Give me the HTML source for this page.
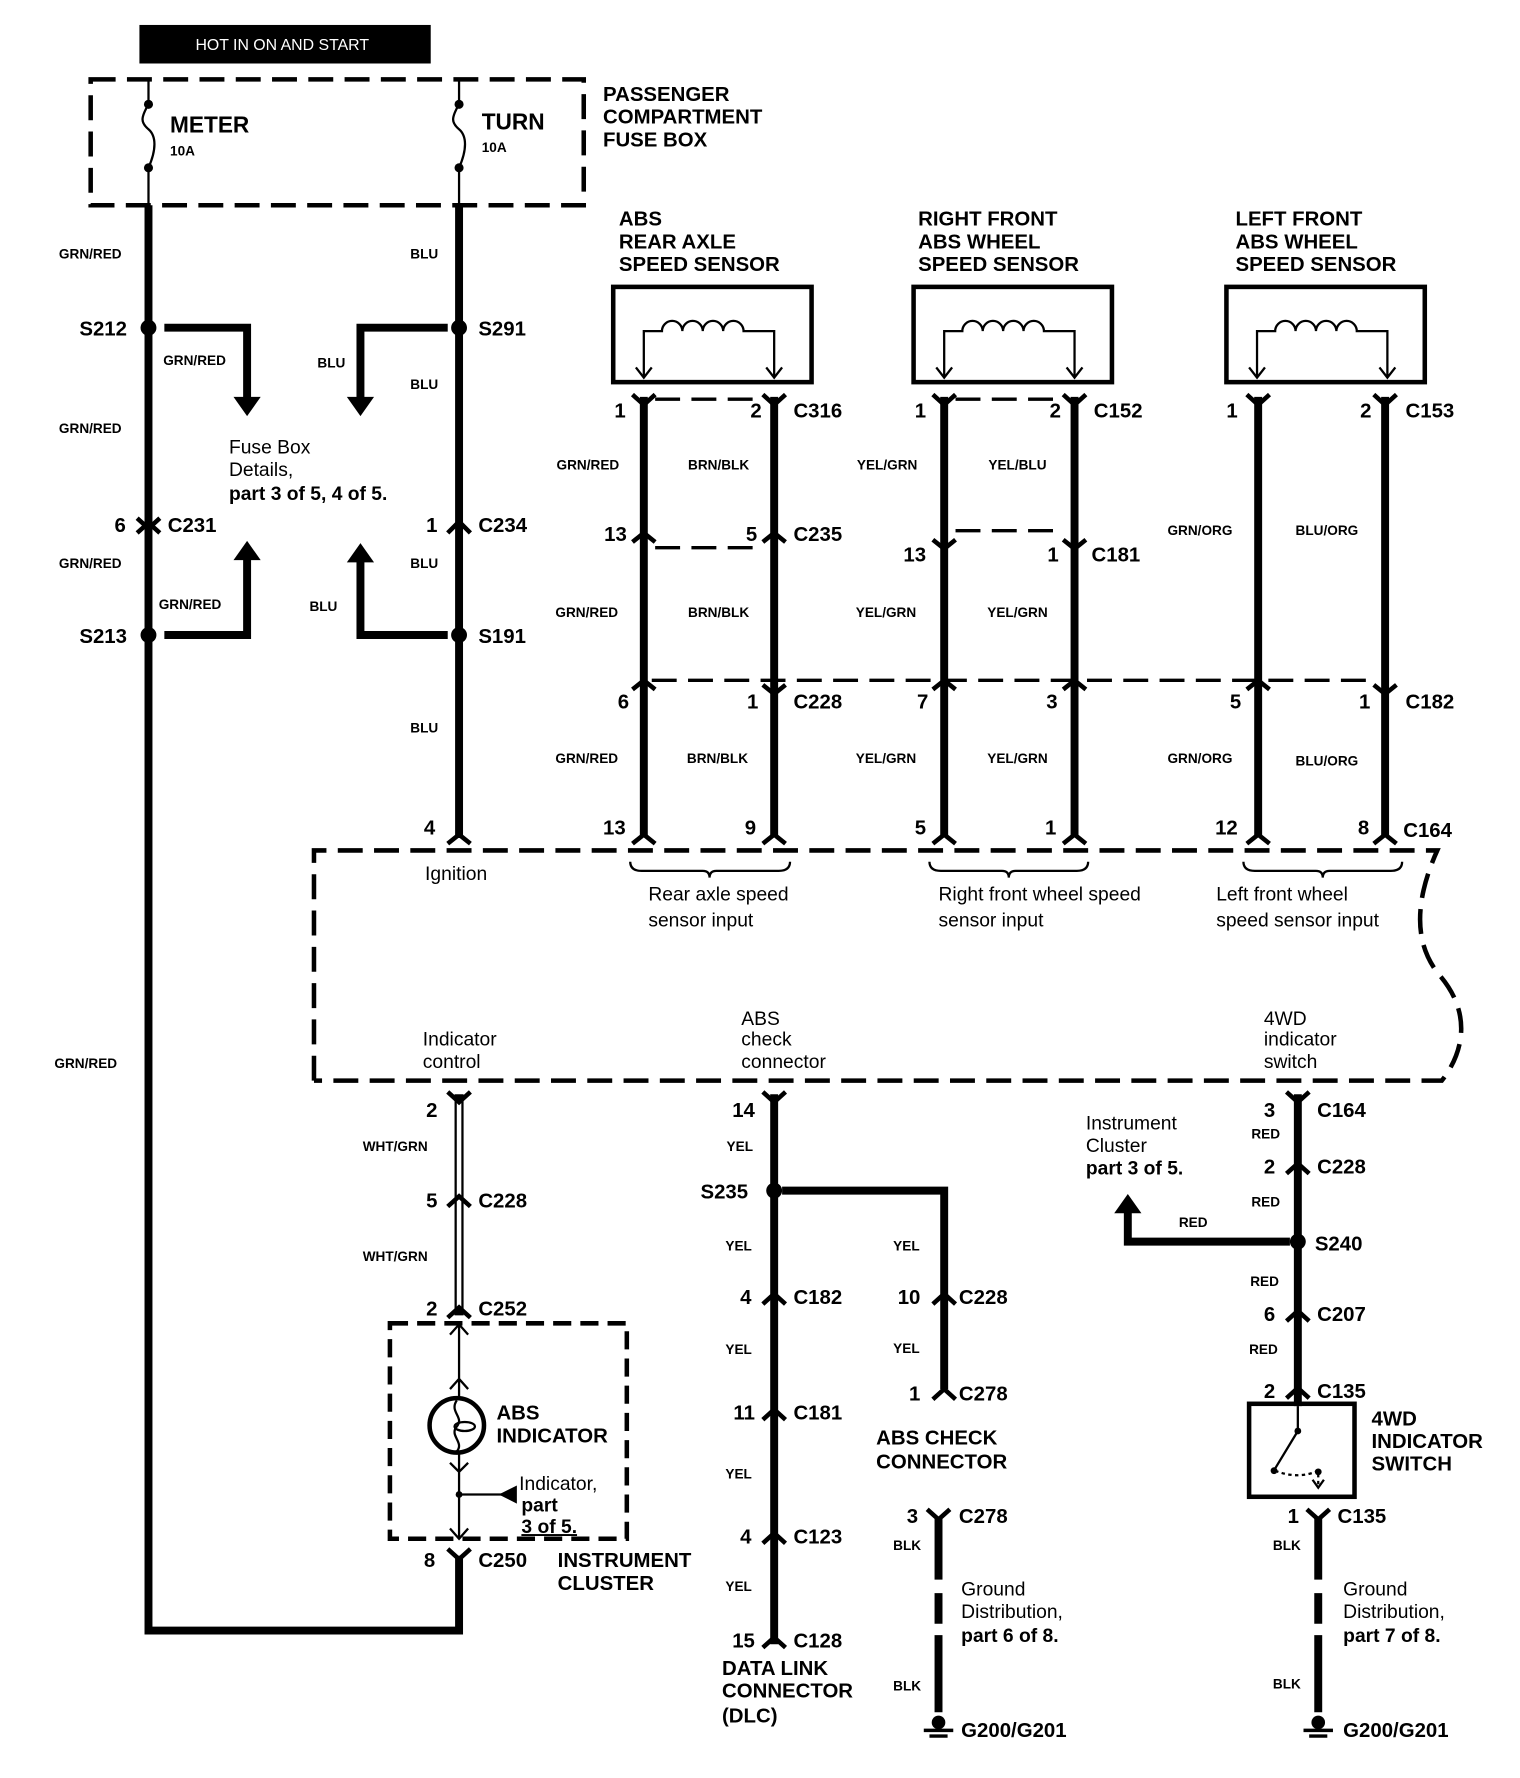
<!DOCTYPE html>
<html><head><meta charset="utf-8"><style>
html,body{margin:0;padding:0;background:#fff;}
svg{display:block;}
text{font-family:"Liberation Sans",Arial,sans-serif;fill:#000;}
.b{font-weight:bold;}
.w{font-size:12px;font-weight:bold;}
.c{font-size:18px;font-weight:bold;}
.t{font-size:17px;}
.wire{stroke:#000;stroke-width:7;fill:none;}
.thin{stroke:#000;stroke-width:2;fill:none;}
.dash{stroke:#000;stroke-width:4;fill:none;stroke-dasharray:22 10;}
.cn{stroke:#000;stroke-width:4;fill:none;}
</style></head><body>
<svg width="1520" height="1778" viewBox="0 0 1341 1568" preserveAspectRatio="none" xmlns="http://www.w3.org/2000/svg">
<rect x="0" y="0" width="1341" height="1568" fill="#fff"/>
<!-- header -->
<rect x="123" y="22" width="257" height="34" fill="#000"/>
<text x="249" y="44" font-size="14" text-anchor="middle" style="fill:#fff">HOT IN ON AND START</text>
<!-- fuse box -->
<rect x="80" y="70" width="435" height="111" class="dash"/>
<path class="thin" d="M131 70 V92 M131 148 V181 M405 70 V92 M405 148 V181"/>
<path class="thin" d="M131 92 C124 104,124 108,131 114 C138 120,138 132,131 148"/>
<path class="thin" d="M405 92 C398 104,398 108,405 114 C412 120,412 132,405 148"/>
<circle cx="131" cy="92" r="4"/><circle cx="131" cy="148" r="4"/>
<circle cx="405" cy="92" r="4"/><circle cx="405" cy="148" r="4"/>
<text x="150" y="117" class="b" font-size="20">METER</text>
<text x="150" y="137" class="w">10A</text>
<text x="425" y="114" class="b" font-size="20">TURN</text>
<text x="425" y="134" class="w">10A</text>
<text x="532" y="89" class="c">PASSENGER</text>
<text x="532" y="109" class="c">COMPARTMENT</text>
<text x="532" y="129" class="c">FUSE BOX</text>

<!-- left main wire -->
<path class="wire" d="M131 181 V1438 H405 V1372"/>
<text x="52" y="228" class="w">GRN/RED</text>
<text x="52" y="382" class="w">GRN/RED</text>
<text x="52" y="501" class="w">GRN/RED</text>
<text x="48" y="942" class="w">GRN/RED</text>
<circle cx="131" cy="289" r="7"/>
<text x="70" y="296" class="c">S212</text>
<path class="wire" d="M145 289 H218 V352"/>
<path d="M206 350 L230 350 L218 367 Z"/>
<text x="144" y="322" class="w">GRN/RED</text>
<path class="cn" d="M121 457 L131 466 L141 457 M121 470 L131 461 L141 470"/>
<text x="101" y="469" class="c">6</text><text x="148" y="469" class="c">C231</text>
<circle cx="131" cy="560" r="7"/>
<text x="70" y="567" class="c">S213</text>
<path class="wire" d="M145 560 H218 V492"/>
<path d="M206 494 L230 494 L218 477 Z"/>
<text x="140" y="537" class="w">GRN/RED</text>

<!-- right wire from TURN -->
<path class="wire" d="M405 181 V738"/>
<text x="362" y="228" class="w">BLU</text>
<circle cx="405" cy="289" r="7"/>
<text x="422" y="296" class="c">S291</text>
<path class="wire" d="M395 289 H318 V352"/>
<path d="M306 350 L330 350 L318 367 Z"/>
<text x="280" y="324" class="w">BLU</text>
<text x="362" y="343" class="w">BLU</text>
<text x="202" y="400" class="t">Fuse Box</text>
<text x="202" y="420" class="t">Details,</text>
<text x="202" y="441" class="t b">part 3 of 5, 4 of 5.</text>
<path class="cn" d="M395 470 L405 460 L415 470"/>
<text x="376" y="469" class="c">1</text><text x="422" y="469" class="c">C234</text>
<text x="362" y="501" class="w">BLU</text>
<circle cx="405" cy="560" r="7"/>
<text x="422" y="567" class="c">S191</text>
<path class="wire" d="M395 560 H318 V494"/>
<path d="M306 496 L330 496 L318 479 Z"/>
<text x="273" y="539" class="w">BLU</text>
<text x="362" y="646" class="w">BLU</text>
<text x="374" y="736" class="c">4</text>
<text x="375" y="776" class="t">Ignition</text>

<!-- sensors -->
<g>
<text x="546" y="199" class="c">ABS</text><text x="546" y="219" class="c">REAR AXLE</text><text x="546" y="239" class="c">SPEED SENSOR</text>
<text x="810" y="199" class="c">RIGHT FRONT</text><text x="810" y="219" class="c">ABS WHEEL</text><text x="810" y="239" class="c">SPEED SENSOR</text>
<text x="1090" y="199" class="c">LEFT FRONT</text><text x="1090" y="219" class="c">ABS WHEEL</text><text x="1090" y="239" class="c">SPEED SENSOR</text>
</g>
<g id="s1">
<rect x="541" y="253" width="175" height="84" fill="none" stroke="#000" stroke-width="4"/>
<path class="thin" d="M568 332 V292 H584 a9 9 0 0 1 18 0 a9 9 0 0 1 18 0 a9 9 0 0 1 18 0 a9 9 0 0 1 18 0 H683 V332"/>
<path class="thin" d="M561 324 L568 333 L575 324 M676 324 L683 333 L690 324"/>
</g>
<use href="#s1" transform="translate(265 0)"/>
<use href="#s1" transform="translate(541 0)"/>

<path class="wire" d="M568 350 V738 M683 350 V738 M833 350 V738 M948 350 V738 M1110 350 V738 M1222 350 V738"/>
<path class="cn" d="M558 348 L568 357 L578 348 M673 348 L683 357 L693 348 M823 348 L833 357 L843 348 M938 348 L948 357 L958 348 M1100 348 L1110 357 L1120 348 M1212 348 L1222 357 L1232 348"/>
<path class="dash" style="stroke-width:3" d="M578 352 H673 M843 352 H938"/>
<text x="542" y="368" class="c">1</text><text x="662" y="368" class="c">2</text><text x="700" y="368" class="c">C316</text>
<text x="807" y="368" class="c">1</text><text x="926" y="368" class="c">2</text><text x="965" y="368" class="c">C152</text>
<text x="1082" y="368" class="c">1</text><text x="1200" y="368" class="c">2</text><text x="1240" y="368" class="c">C153</text>
<text x="491" y="414" class="w">GRN/RED</text><text x="607" y="414" class="w">BRN/BLK</text>
<text x="756" y="414" class="w">YEL/GRN</text><text x="872" y="414" class="w">YEL/BLU</text>
<text x="1030" y="472" class="w">GRN/ORG</text><text x="1143" y="472" class="w">BLU/ORG</text>
<path class="cn" d="M558 478 L568 470 L578 478 M673 478 L683 470 L693 478"/>
<path class="dash" style="stroke-width:3" d="M578 483 H673"/>
<text x="533" y="477" class="c">13</text><text x="658" y="477" class="c">5</text><text x="700" y="477" class="c">C235</text>
<path class="cn" d="M823 476 L833 484 L843 476 M938 476 L948 484 L958 476"/>
<path class="dash" style="stroke-width:3" d="M843 468 H938"/>
<text x="797" y="495" class="c">13</text><text x="924" y="495" class="c">1</text><text x="963" y="495" class="c">C181</text>
<text x="490" y="544" class="w">GRN/RED</text><text x="607" y="544" class="w">BRN/BLK</text>
<text x="755" y="544" class="w">YEL/GRN</text><text x="871" y="544" class="w">YEL/GRN</text>
<path class="dash" style="stroke-width:3" d="M575 600 H1215"/>
<path class="cn" d="M558 608 L568 600 L578 608 M673 604 L683 612 L693 604 M823 608 L833 600 L843 608 M938 608 L948 600 L958 608 M1100 608 L1110 600 L1120 608 M1212 604 L1222 612 L1232 604"/>
<text x="545" y="625" class="c">6</text><text x="659" y="625" class="c">1</text><text x="700" y="625" class="c">C228</text>
<text x="809" y="625" class="c">7</text><text x="923" y="625" class="c">3</text>
<text x="1085" y="625" class="c">5</text><text x="1199" y="625" class="c">1</text><text x="1240" y="625" class="c">C182</text>
<text x="490" y="673" class="w">GRN/RED</text><text x="606" y="673" class="w">BRN/BLK</text>
<text x="755" y="673" class="w">YEL/GRN</text><text x="871" y="673" class="w">YEL/GRN</text>
<text x="1030" y="673" class="w">GRN/ORG</text><text x="1143" y="675" class="w">BLU/ORG</text>
<text x="532" y="736" class="c">13</text><text x="657" y="736" class="c">9</text>
<text x="807" y="736" class="c">5</text><text x="922" y="736" class="c">1</text>
<text x="1072" y="736" class="c">12</text><text x="1198" y="736" class="c">8</text><text x="1238" y="738" class="c">C164</text>
<path class="cn" d="M395 744 L405 736 L415 744 M558 744 L568 736 L578 744 M673 744 L683 736 L693 744 M823 744 L833 736 L843 744 M938 744 L948 736 L958 744 M1100 744 L1110 736 L1120 744 M1212 744 L1222 736 L1232 744"/>

<!-- ECU dashed box -->
<path class="dash" d="M277 953 V750 H1268 C1250 790,1245 830,1270 860 C1300 895,1290 930,1272 953 H277"/>
<path class="thin" d="M556 760 Q556 768 566 768 H620 Q626 768 626 774 Q626 768 632 768 H687 Q697 768 697 760"/>
<path class="thin" d="M820 760 Q820 768 830 768 H884 Q890 768 890 774 Q890 768 896 768 H950 Q960 768 960 760"/>
<path class="thin" d="M1097 760 Q1097 768 1107 768 H1161 Q1167 768 1167 774 Q1167 768 1173 768 H1227 Q1237 768 1237 760"/>
<text x="572" y="794" class="t">Rear axle speed</text><text x="572" y="817" class="t">sensor input</text>
<text x="828" y="794" class="t">Right front  wheel speed</text><text x="828" y="817" class="t">sensor input</text>
<text x="1073" y="794" class="t">Left front  wheel</text><text x="1073" y="817" class="t">speed sensor input</text>
<text x="373" y="922" class="t">Indicator</text><text x="373" y="942" class="t">control</text>
<text x="654" y="904" class="t">ABS</text><text x="654" y="922" class="t">check</text><text x="654" y="942" class="t">connector</text>
<text x="1115" y="904" class="t">4WD</text><text x="1115" y="922" class="t">indicator</text><text x="1115" y="942" class="t">switch</text>

<!-- indicator wire (white) -->
<path stroke="#000" stroke-width="8" fill="none" d="M405 965 V1160"/>
<path stroke="#fff" stroke-width="4" fill="none" d="M405 972 V1155"/>
<path class="cn" d="M395 963 L405 972 L415 963 M395 1064 L405 1055 L415 1064 M395 1162 L405 1153 L415 1162"/>
<text x="376" y="985" class="c">2</text>
<text x="320" y="1015" class="w">WHT/GRN</text>
<text x="376" y="1065" class="c">5</text><text x="422" y="1065" class="c">C228</text>
<text x="320" y="1112" class="w">WHT/GRN</text>
<text x="376" y="1160" class="c">2</text><text x="422" y="1160" class="c">C252</text>
<rect x="344" y="1167" width="209" height="190" class="dash" style="stroke-dasharray:16 8"/>
<path class="thin" d="M405 1167 V1232 M405 1282 V1357 M397 1177 L405 1168 L413 1177 M397 1225 L405 1216 L413 1225 M397 1290 L405 1298 L413 1290 M397 1348 L405 1357 L413 1348 M405 1318 H455"/>
<path d="M440 1318 L456 1310 L456 1326 Z"/>
<circle cx="405" cy="1318" r="3"/>
<circle cx="403" cy="1257" r="24" fill="none" stroke="#000" stroke-width="4"/>
<path class="thin" d="M403 1235 C396 1245,410 1250,403 1258 C396 1266,410 1272,403 1280"/>
<ellipse cx="410" cy="1258" rx="9" ry="4" fill="none" stroke="#000" stroke-width="2"/>
<text x="438" y="1252" class="c">ABS</text><text x="438" y="1272" class="c">INDICATOR</text>
<text x="458" y="1314" class="t">Indicator,</text><text x="460" y="1333" class="t b">part</text><text x="460" y="1352" class="t b" text-decoration="underline">3 of 5.</text>
<path class="cn" d="M395 1366 L405 1375 L415 1366"/>
<text x="374" y="1382" class="c">8</text><text x="422" y="1382" class="c">C250</text>
<text x="492" y="1382" class="c">INSTRUMENT</text><text x="492" y="1402" class="c">CLUSTER</text>

<!-- middle: DLC -->
<path class="wire" d="M683 965 V1450"/>
<path class="cn" d="M673 963 L683 972 L693 963"/>
<text x="646" y="985" class="c">14</text>
<text x="641" y="1015" class="w">YEL</text>
<circle cx="683" cy="1050" r="7"/>
<text x="618" y="1057" class="c">S235</text>
<path class="wire" d="M690 1050 H833 V1225"/>
<text x="788" y="1103" class="w">YEL</text>
<path class="cn" d="M823 1150 L833 1141 L843 1150"/>
<text x="792" y="1150" class="c">10</text><text x="846" y="1150" class="c">C228</text>
<text x="788" y="1193" class="w">YEL</text>
<path class="cn" d="M823 1234 L833 1225 L843 1234"/>
<text x="802" y="1235" class="c">1</text><text x="846" y="1235" class="c">C278</text>
<text x="773" y="1274" class="c">ABS CHECK</text><text x="773" y="1295" class="c">CONNECTOR</text>
<text x="640" y="1103" class="w">YEL</text>
<path class="cn" d="M673 1150 L683 1141 L693 1150"/>
<text x="653" y="1150" class="c">4</text><text x="700" y="1150" class="c">C182</text>
<text x="640" y="1194" class="w">YEL</text>
<path class="cn" d="M673 1252 L683 1243 L693 1252"/>
<text x="647" y="1252" class="c">11</text><text x="700" y="1252" class="c">C181</text>
<text x="640" y="1304" class="w">YEL</text>
<path class="cn" d="M673 1361 L683 1352 L693 1361"/>
<text x="653" y="1361" class="c">4</text><text x="700" y="1361" class="c">C123</text>
<text x="640" y="1403" class="w">YEL</text>
<path class="cn" d="M673 1453 L683 1444 L693 1453"/>
<text x="646" y="1453" class="c">15</text><text x="700" y="1453" class="c">C128</text>
<text x="637" y="1477" class="c">DATA LINK</text><text x="637" y="1497" class="c">CONNECTOR</text><text x="637" y="1519" class="c">(DLC)</text>

<!-- ABS check ground -->
<path class="wire" d="M828 1338 V1393 M828 1405 V1432 M828 1442 V1510"/>
<path class="cn" d="M818 1331 L828 1340 L838 1331"/>
<text x="800" y="1343" class="c">3</text><text x="846" y="1343" class="c">C278</text>
<text x="788" y="1367" class="w">BLK</text><text x="788" y="1491" class="w">BLK</text>
<text x="848" y="1407" class="t">Ground</text><text x="848" y="1427" class="t">Distribution,</text><text x="848" y="1448" class="t b">part 6 of 8.</text>
<circle cx="828" cy="1519" r="6"/>
<path stroke="#000" stroke-width="3" d="M815 1526 H841 M820 1531 H836"/>
<text x="848" y="1532" class="c">G200/G201</text>

<!-- right: 4WD -->
<path class="wire" d="M1145 965 V1240"/>
<path class="cn" d="M1135 963 L1145 972 L1155 963 M1135 1035 L1145 1026 L1155 1035 M1135 1165 L1145 1156 L1155 1165 M1135 1233 L1145 1224 L1155 1233"/>
<text x="1115" y="985" class="c">3</text><text x="1162" y="985" class="c">C164</text>
<text x="1104" y="1004" class="w">RED</text>
<text x="1115" y="1035" class="c">2</text><text x="1162" y="1035" class="c">C228</text>
<text x="1104" y="1064" class="w">RED</text>
<circle cx="1145" cy="1095" r="7"/>
<text x="1160" y="1103" class="c">S240</text>
<path class="wire" d="M1138 1095 H995 V1068"/>
<path d="M983 1070 L1007 1070 L995 1053 Z"/>
<text x="1040" y="1082" class="w">RED</text>
<text x="958" y="996" class="t">Instrument</text><text x="958" y="1016" class="t">Cluster</text><text x="958" y="1036" class="t b">part 3 of 5.</text>
<text x="1103" y="1134" class="w">RED</text>
<text x="1115" y="1165" class="c">6</text><text x="1162" y="1165" class="c">C207</text>
<text x="1102" y="1194" class="w">RED</text>
<text x="1115" y="1233" class="c">2</text><text x="1162" y="1233" class="c">C135</text>
<rect x="1102" y="1238" width="93" height="82" fill="none" stroke="#000" stroke-width="4"/>
<path class="thin" d="M1145 1240 V1262 L1125 1295"/>
<path class="thin" stroke-dasharray="3 3" d="M1125 1297 Q1145 1305 1163 1297 V1310"/>
<circle cx="1145" cy="1262" r="3"/><circle cx="1124" cy="1297" r="3"/><circle cx="1163" cy="1298" r="3"/>
<path class="thin" d="M1158 1305 L1163 1312 L1168 1305"/>
<text x="1210" y="1257" class="c">4WD</text><text x="1210" y="1277" class="c">INDICATOR</text><text x="1210" y="1297" class="c">SWITCH</text>
<path class="wire" d="M1163 1338 V1393 M1163 1405 V1432 M1163 1442 V1510"/>
<path class="cn" d="M1153 1331 L1163 1340 L1173 1331"/>
<text x="1136" y="1343" class="c">1</text><text x="1180" y="1343" class="c">C135</text>
<text x="1123" y="1367" class="w">BLK</text><text x="1123" y="1489" class="w">BLK</text>
<text x="1185" y="1407" class="t">Ground</text><text x="1185" y="1427" class="t">Distribution,</text><text x="1185" y="1448" class="t b">part 7 of 8.</text>
<circle cx="1163" cy="1519" r="6"/>
<path stroke="#000" stroke-width="3" d="M1150 1526 H1176 M1155 1531 H1171"/>
<text x="1185" y="1532" class="c">G200/G201</text>
</svg>
</body></html>
